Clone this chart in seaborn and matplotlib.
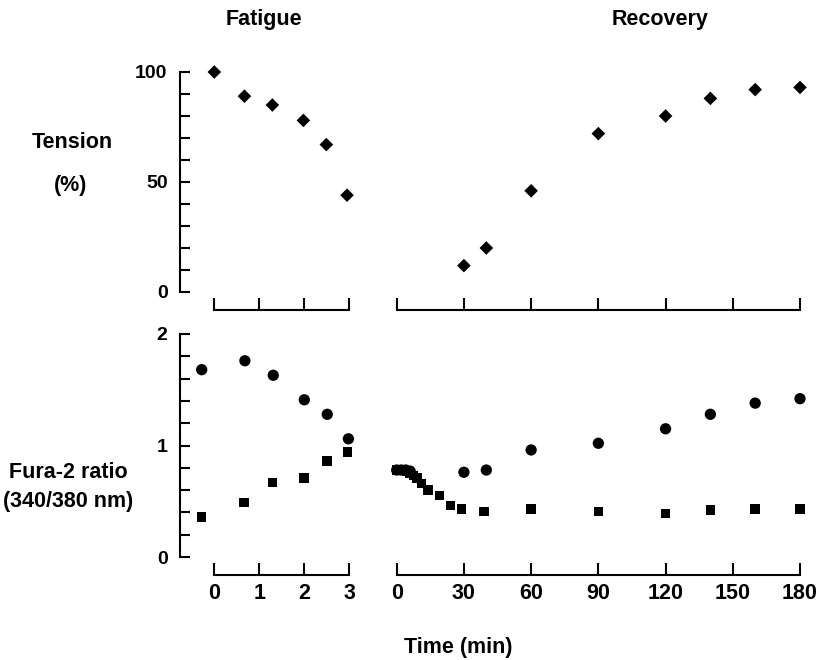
import numpy as np
import pandas as pd
import matplotlib
matplotlib.use("Agg")
import matplotlib.pyplot as plt
import seaborn as sns
from matplotlib.ticker import MultipleLocator

# ---------------- data ----------------
fat_tension_t = [0.0, 0.67, 1.29, 1.98, 2.49, 2.95]
fat_tension = [100, 89, 85, 78, 67, 44]

rec_tension_t = [30, 40, 60, 90, 120, 140, 160, 180]
rec_tension = [12, 20, 46, 72, 80, 88, 92, 93]

fat_circ_t = [-0.28, 0.68, 1.31, 2.0, 2.51, 2.98]
fat_circ = [1.68, 1.76, 1.63, 1.41, 1.28, 1.06]
fat_sq_t = [-0.28, 0.66, 1.29, 1.99, 2.5, 2.96]
fat_sq = [0.36, 0.49, 0.67, 0.71, 0.86, 0.94]

rec_circ_t = [0, 2, 4, 6, 30, 40, 60, 90, 120, 140, 160, 180]
rec_circ = [0.78, 0.78, 0.78, 0.77, 0.76, 0.78, 0.96, 1.02, 1.15, 1.28, 1.38, 1.42]
rec_sq_t = [0, 1.5, 3, 4.5, 6, 7.5, 9, 11, 14, 19, 24, 29, 39, 60, 90, 120, 140, 160, 180]
rec_sq = [0.78, 0.78, 0.78, 0.77, 0.75, 0.73, 0.71, 0.66, 0.60, 0.55, 0.46, 0.43,
          0.41, 0.43, 0.41, 0.39, 0.42, 0.43, 0.43]

fat_ticks = [0, 1, 2, 3]
rec_ticks = [0, 30, 60, 90, 120, 150, 180]

# ---------------- style ----------------
sns.set_style("ticks")
plt.rcParams['font.family'] = ['Liberation Sans', 'DejaVu Sans']
plt.rcParams['font.weight'] = 'bold'
for k in ('text.color', 'xtick.color', 'ytick.color', 'axes.edgecolor',
          'axes.labelcolor'):
    plt.rcParams[k] = 'black'

W, H = 822, 660
fig = plt.figure(figsize=(W / 100, H / 100), dpi=100)

def frac_box(left_px, top_px, width_px, height_px):
    return [left_px / W, (H - top_px - height_px) / H, width_px / W, height_px / H]

px_min_f = 45.0
px_min_r = 403.3 / 180.0
f_xlim = (-0.76, 3.12)
r_xlim = (-2.1, 182.6)
f_left = 214.3 + f_xlim[0] * px_min_f
r_left = 396.7 + r_xlim[0] * px_min_r
f_w = (f_xlim[1] - f_xlim[0]) * px_min_f
r_w = (r_xlim[1] - r_xlim[0]) * px_min_r

top_top, top_h = 72, 220
bot_top, bot_h = 334, 223

ax_tf = fig.add_axes(frac_box(f_left, top_top, f_w, top_h))
ax_tr = fig.add_axes(frac_box(r_left, top_top, r_w, top_h))
ax_bf = fig.add_axes(frac_box(f_left, bot_top, f_w, bot_h))
ax_br = fig.add_axes(frac_box(r_left, bot_top, r_w, bot_h))

dm = dict(color='black', edgecolor='none', linewidth=0, legend=False, clip_on=False)

sns.scatterplot(x=fat_tension_t, y=fat_tension, marker='D', s=48, ax=ax_tf, **dm)
sns.scatterplot(x=rec_tension_t, y=rec_tension, marker='D', s=48, ax=ax_tr, **dm)
sns.scatterplot(x=fat_circ_t, y=fat_circ, marker='o', s=66, ax=ax_bf, **dm)
sns.scatterplot(x=fat_sq_t, y=fat_sq, marker='s', s=46, ax=ax_bf, **dm)
sns.scatterplot(x=rec_circ_t, y=rec_circ, marker='o', s=66, ax=ax_br, **dm)
sns.scatterplot(x=rec_sq_t, y=rec_sq, marker='s', s=46, ax=ax_br, **dm)

lw = 1.5
for ax, xl, xt in [(ax_tf, f_xlim, fat_ticks), (ax_bf, f_xlim, fat_ticks),
                   (ax_tr, r_xlim, rec_ticks), (ax_br, r_xlim, rec_ticks)]:
    ax.set_xlim(*xl)
    ax.set_xticks(xt)
    ax.spines['top'].set_visible(False)
    ax.spines['right'].set_visible(False)
    ax.spines['bottom'].set_position(('outward', 13))
    ax.spines['bottom'].set_bounds(xt[0], xt[-1])
    ax.spines['bottom'].set_linewidth(lw)
    ax.spines['left'].set_linewidth(lw)
    ax.tick_params(axis='x', direction='in', length=8.5, width=lw, pad=6,
                   labelsize=15.5, colors='black')
    ax.tick_params(axis='y', which='both', direction='in', length=7, width=lw,
                   pad=9, labelsize=14, colors='black')
    ax.set_xlabel('')
    ax.set_ylabel('')
    ax.patch.set_alpha(0)

ax_tf.set_ylim(0, 100)
ax_tr.set_ylim(0, 100)
ax_bf.set_ylim(0, 2)
ax_br.set_ylim(0, 2)

ax_tf.set_yticks([0, 50, 100])
ax_tf.yaxis.set_minor_locator(MultipleLocator(10))
ax_bf.set_yticks([0, 1, 2])
ax_bf.yaxis.set_minor_locator(MultipleLocator(0.2))

# top panels: hide x tick labels
ax_tf.tick_params(axis='x', labelbottom=False)
ax_tr.tick_params(axis='x', labelbottom=False)

# right panels: no y axis
for ax in (ax_tr, ax_br):
    ax.spines['left'].set_visible(False)
    ax.tick_params(axis='y', which='both', left=False, labelleft=False)

for ax in (ax_tf, ax_bf, ax_br):
    for lab in ax.get_xticklabels() + ax.get_yticklabels():
        lab.set_fontweight('bold')

# ---------------- texts ----------------
tkw = dict(ha='center', va='center', fontweight='bold', color='black')
fs = 15.5
fig.text(264 / W, 1 - 20 / H, 'Fatigue', fontsize=fs, **tkw)
fig.text(660 / W, 1 - 20 / H, 'Recovery', fontsize=fs, **tkw)
fig.text(72 / W, 1 - 142 / H, 'Tension', fontsize=fs, **tkw)
fig.text(71 / W, 1 - 185 / H, '(%)', fontsize=fs, **tkw)
fig.text(68 / W, 1 - 472 / H, 'Fura-2 ratio', fontsize=fs, **tkw)
fig.text(68 / W, 1 - 502 / H, '(340/380 nm)', fontsize=fs, **tkw)
fig.text(458 / W, 1 - 648 / H, 'Time (min)', fontsize=fs, **tkw)

fig.savefig('out.png', dpi=100, facecolor='white')
